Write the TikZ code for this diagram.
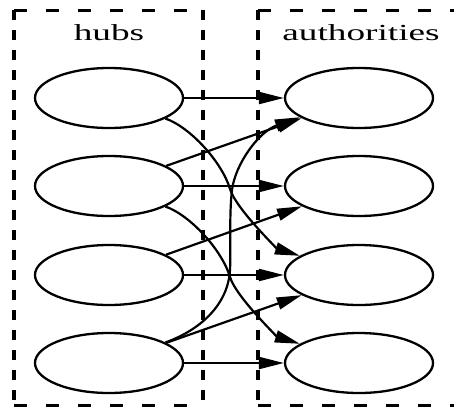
\documentclass[tikz,border=0pt]{standalone}
\usepackage{fontspec}
\setmainfont{Liberation Serif}
\usetikzlibrary{arrows.meta,shapes.geometric}
\begin{document}
\begin{tikzpicture}[x=1pt,y=-1pt,
  vert/.style={ellipse,draw,line width=2.3pt,minimum width=148pt,minimum height=60pt,inner sep=0pt},
  link/.style={line width=2.2pt,-{Triangle[length=25pt,width=12pt]},shorten >=0pt},
  hside/.style={line width=3pt,dash pattern=on 13pt off 19pt},
  vside/.style={line width=3.5pt,dash pattern=on 10pt off 10pt},
  ctitle/.style={anchor=base,inner sep=0pt,font=\fontsize{23}{26}\selectfont}]
\useasboundingbox (0,0) rectangle (454,407);
\clip (0,0) rectangle (454,407);

% cluster frames
\draw[hside] (14,10) -- (203,10);
\draw[hside] (14,405) -- (203,405);
\draw[vside] (14,10) -- (14,405);
\draw[vside] (203,10) -- (203,405);
\draw[hside] (258,10) -- (470,10);
\draw[hside] (258,405) -- (470,405);
\draw[vside] (258,10) -- (258,405);

% cluster titles
\node[ctitle] (thubs) at (109,40) {\scalebox{1.62}[1]{hubs}};
\node[ctitle] (tauth) at (361,40) {\scalebox{1.62}[1]{authorities}};

% hub and authority vertices
\node[vert] (h1) at (109,98) {};
\node[vert] (h2) at (109,186) {};
\node[vert] (h3) at (109,275) {};
\node[vert] (h4) at (109,363) {};
\node[vert] (a1) at (359,98) {};
\node[vert] (a2) at (359,186) {};
\node[vert] (a3) at (359,275) {};
\node[vert] (a4) at (359,363) {};

% straight links
\draw[link] (h1) -- (a1);
\draw[link] (h2) -- (a2);
\draw[link] (h3) -- (a3);
\draw[link] (h4) -- (a4);
\draw[link] (h2) -- (a1);
\draw[link] (h3) -- (a2);
\draw[link] (h4) -- (a3);

% curved links
\draw[link] (h1.-20) .. controls (190,127) and (222,162) .. (230,189)
  .. controls (236,209) and (278,249) .. (a3.162);
\draw[link] (h2.-20) .. controls (190,215) and (222,250) .. (230,277)
  .. controls (236,297) and (278,337) .. (a4.162);
\draw[link] (h4.20) .. controls (200,330) and (228,305) .. (230,270)
  .. controls (231,250) and (229,215) .. (232,190)
  .. controls (235,165) and (258,132) .. (a1.198);
\end{tikzpicture}
\end{document}
